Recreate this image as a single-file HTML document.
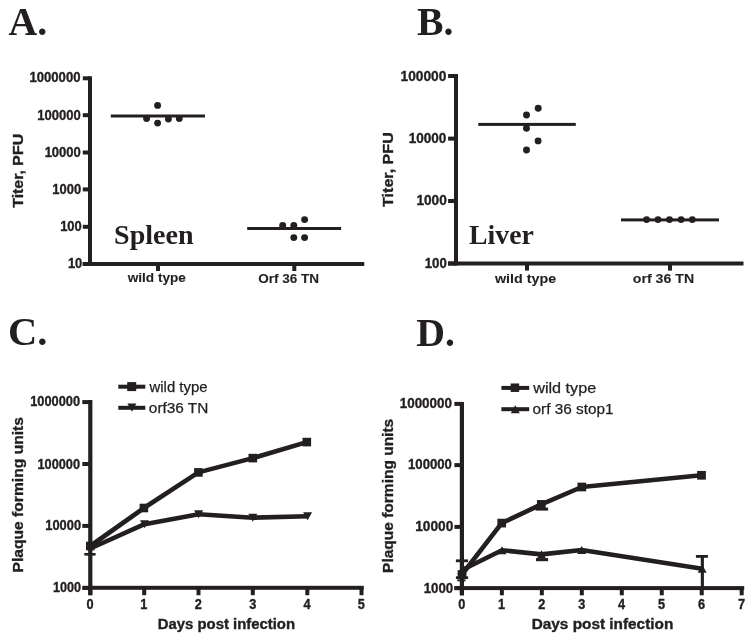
<!DOCTYPE html>
<html><head><meta charset="utf-8"><style>
html,body{margin:0;padding:0;background:#fff;}
body{width:754px;height:640px;overflow:hidden;}
svg{display:block;will-change:transform;}
</style></head><body>
<svg width="754" height="640" viewBox="0 0 754 640" fill="#231f20">
<rect x="0" y="0" width="754" height="640" fill="#fff"/>
<text x="8.50" y="35.00" font-family='"Liberation Serif", serif' font-weight="bold" font-size="40" textLength="38.67" lengthAdjust="spacingAndGlyphs">A.</text>
<text x="416.90" y="35.00" font-family='"Liberation Serif", serif' font-weight="bold" font-size="40" textLength="36.47" lengthAdjust="spacingAndGlyphs">B.</text>
<text x="8.07" y="345.40" font-family='"Liberation Serif", serif' font-weight="bold" font-size="40" textLength="39.44" lengthAdjust="spacingAndGlyphs">C.</text>
<text x="416.20" y="345.50" font-family='"Liberation Serif", serif' font-weight="bold" font-size="40" textLength="38.67" lengthAdjust="spacingAndGlyphs">D.</text>
<rect x="88.00" y="76.30" width="4.00" height="189.70"/>
<rect x="82.70" y="262.00" width="281.60" height="4.00"/>
<rect x="82.80" y="76.30" width="7.20" height="4.00"/>
<rect x="82.80" y="113.20" width="7.20" height="4.00"/>
<rect x="82.80" y="150.50" width="7.20" height="4.00"/>
<rect x="82.80" y="187.40" width="7.20" height="4.00"/>
<rect x="82.80" y="224.80" width="7.20" height="4.00"/>
<rect x="82.80" y="262.00" width="7.20" height="4.00"/>
<text x="29.45" y="82.30" font-family='"Liberation Sans", sans-serif' font-weight="bold" font-size="13.9" textLength="51.02" lengthAdjust="spacingAndGlyphs" stroke="#231f20" stroke-width="0.35">1000000</text>
<text x="37.35" y="119.60" font-family='"Liberation Sans", sans-serif' font-weight="bold" font-size="13.9" textLength="43.50" lengthAdjust="spacingAndGlyphs" stroke="#231f20" stroke-width="0.35">100000</text>
<text x="44.65" y="156.60" font-family='"Liberation Sans", sans-serif' font-weight="bold" font-size="13.9" textLength="36.18" lengthAdjust="spacingAndGlyphs" stroke="#231f20" stroke-width="0.35">10000</text>
<text x="52.36" y="193.80" font-family='"Liberation Sans", sans-serif' font-weight="bold" font-size="13.9" textLength="28.86" lengthAdjust="spacingAndGlyphs" stroke="#231f20" stroke-width="0.35">1000</text>
<text x="60.16" y="231.20" font-family='"Liberation Sans", sans-serif' font-weight="bold" font-size="13.9" textLength="21.61" lengthAdjust="spacingAndGlyphs" stroke="#231f20" stroke-width="0.35">100</text>
<text x="67.91" y="268.20" font-family='"Liberation Sans", sans-serif' font-weight="bold" font-size="13.9" textLength="14.39" lengthAdjust="spacingAndGlyphs" stroke="#231f20" stroke-width="0.35">10</text>
<rect x="156.00" y="264.00" width="4.00" height="7.00"/>
<rect x="292.30" y="264.00" width="4.00" height="7.00"/>
<text x="127.70" y="282.30" font-family='"Liberation Sans", sans-serif' font-weight="bold" font-size="13.6" textLength="58.22" lengthAdjust="spacingAndGlyphs" stroke="#231f20" stroke-width="0.1">wild type</text>
<text x="258.16" y="282.80" font-family='"Liberation Sans", sans-serif' font-weight="bold" font-size="13.6" textLength="60.83" lengthAdjust="spacingAndGlyphs" stroke="#231f20" stroke-width="0.1">Orf 36 TN</text>
<text transform="translate(22.85,207.76) rotate(-90)" font-family='"Liberation Sans", sans-serif' font-weight="bold" font-size="15" textLength="73.88" lengthAdjust="spacingAndGlyphs" stroke="#231f20" stroke-width="0.35">Titer, PFU</text>
<text x="114.06" y="243.80" font-family='"Liberation Serif", serif' font-weight="bold" font-size="28" textLength="79.54" lengthAdjust="spacingAndGlyphs">Spleen</text>
<rect x="110.80" y="114.50" width="94.20" height="3.00"/>
<circle cx="157.60" cy="105.40" r="3.45"/>
<circle cx="146.60" cy="118.60" r="3.45"/>
<circle cx="157.60" cy="123.10" r="3.45"/>
<circle cx="168.40" cy="119.10" r="3.45"/>
<circle cx="179.30" cy="118.60" r="3.45"/>
<rect x="247.20" y="227.00" width="93.90" height="3.00"/>
<circle cx="282.70" cy="225.50" r="3.45"/>
<circle cx="293.80" cy="225.50" r="3.45"/>
<circle cx="304.60" cy="219.60" r="3.45"/>
<circle cx="293.80" cy="237.60" r="3.45"/>
<circle cx="304.60" cy="237.60" r="3.45"/>
<rect x="454.00" y="74.00" width="4.00" height="191.50"/>
<rect x="448.00" y="261.50" width="295.50" height="4.00"/>
<rect x="448.10" y="74.00" width="7.90" height="4.00"/>
<rect x="448.10" y="136.60" width="7.90" height="4.00"/>
<rect x="448.10" y="199.00" width="7.90" height="4.00"/>
<rect x="448.10" y="261.50" width="7.90" height="4.00"/>
<text x="400.51" y="80.60" font-family='"Liberation Sans", sans-serif' font-weight="bold" font-size="13.9" textLength="45.87" lengthAdjust="spacingAndGlyphs" stroke="#231f20" stroke-width="0.35">100000</text>
<text x="408.72" y="143.10" font-family='"Liberation Sans", sans-serif' font-weight="bold" font-size="13.9" textLength="37.63" lengthAdjust="spacingAndGlyphs" stroke="#231f20" stroke-width="0.35">10000</text>
<text x="416.41" y="205.20" font-family='"Liberation Sans", sans-serif' font-weight="bold" font-size="13.9" textLength="30.38" lengthAdjust="spacingAndGlyphs" stroke="#231f20" stroke-width="0.35">1000</text>
<text x="424.74" y="267.60" font-family='"Liberation Sans", sans-serif' font-weight="bold" font-size="13.9" textLength="22.09" lengthAdjust="spacingAndGlyphs" stroke="#231f20" stroke-width="0.35">100</text>
<rect x="525.00" y="263.50" width="4.00" height="7.10"/>
<rect x="668.00" y="263.50" width="4.00" height="7.10"/>
<text x="494.90" y="282.50" font-family='"Liberation Sans", sans-serif' font-weight="bold" font-size="13.6" textLength="61.25" lengthAdjust="spacingAndGlyphs" stroke="#231f20" stroke-width="0.1">wild type</text>
<text x="632.73" y="282.50" font-family='"Liberation Sans", sans-serif' font-weight="bold" font-size="13.6" textLength="61.45" lengthAdjust="spacingAndGlyphs" stroke="#231f20" stroke-width="0.1">orf 36 TN</text>
<text transform="translate(393.00,206.96) rotate(-90)" font-family='"Liberation Sans", sans-serif' font-weight="bold" font-size="15" textLength="74.70" lengthAdjust="spacingAndGlyphs" stroke="#231f20" stroke-width="0.35">Titer, PFU</text>
<text x="469.08" y="243.80" font-family='"Liberation Serif", serif' font-weight="bold" font-size="28" textLength="64.74" lengthAdjust="spacingAndGlyphs">Liver</text>
<rect x="478.30" y="122.90" width="97.50" height="3.00"/>
<circle cx="538.20" cy="108.20" r="3.45"/>
<circle cx="526.50" cy="115.00" r="3.45"/>
<circle cx="526.50" cy="128.20" r="3.45"/>
<circle cx="538.10" cy="140.90" r="3.45"/>
<circle cx="526.50" cy="150.00" r="3.45"/>
<rect x="621.00" y="218.40" width="98.00" height="3.00"/>
<circle cx="646.60" cy="219.60" r="3.45"/>
<circle cx="658.00" cy="219.60" r="3.45"/>
<circle cx="669.50" cy="219.60" r="3.45"/>
<circle cx="681.10" cy="219.60" r="3.45"/>
<circle cx="692.30" cy="219.60" r="3.45"/>
<rect x="88.20" y="400.00" width="4.20" height="195.20"/>
<rect x="82.70" y="585.80" width="281.10" height="4.00"/>
<rect x="82.30" y="400.10" width="7.70" height="4.00"/>
<rect x="82.30" y="462.00" width="7.70" height="4.00"/>
<rect x="82.30" y="523.90" width="7.70" height="4.00"/>
<rect x="82.30" y="586.00" width="7.70" height="4.00"/>
<text x="30.17" y="406.20" font-family='"Liberation Sans", sans-serif' font-weight="bold" font-size="13.9" textLength="49.84" lengthAdjust="spacingAndGlyphs" stroke="#231f20" stroke-width="0.35">1000000</text>
<text x="37.47" y="468.60" font-family='"Liberation Sans", sans-serif' font-weight="bold" font-size="13.9" textLength="42.51" lengthAdjust="spacingAndGlyphs" stroke="#231f20" stroke-width="0.35">100000</text>
<text x="45.26" y="530.00" font-family='"Liberation Sans", sans-serif' font-weight="bold" font-size="13.9" textLength="35.81" lengthAdjust="spacingAndGlyphs" stroke="#231f20" stroke-width="0.35">10000</text>
<text x="52.98" y="591.90" font-family='"Liberation Sans", sans-serif' font-weight="bold" font-size="13.9" textLength="28.07" lengthAdjust="spacingAndGlyphs" stroke="#231f20" stroke-width="0.35">1000</text>
<rect x="88.30" y="587.80" width="4.00" height="7.40"/>
<text x="86.56" y="608.60" font-family='"Liberation Sans", sans-serif' font-weight="bold" font-size="14.0" textLength="7.09" lengthAdjust="spacingAndGlyphs" stroke="#231f20" stroke-width="0.35">0</text>
<rect x="142.20" y="587.80" width="4.00" height="7.40"/>
<text x="140.21" y="608.60" font-family='"Liberation Sans", sans-serif' font-weight="bold" font-size="14.0" textLength="7.09" lengthAdjust="spacingAndGlyphs" stroke="#231f20" stroke-width="0.35">1</text>
<rect x="196.50" y="587.80" width="4.00" height="7.40"/>
<text x="194.80" y="608.60" font-family='"Liberation Sans", sans-serif' font-weight="bold" font-size="14.0" textLength="7.09" lengthAdjust="spacingAndGlyphs" stroke="#231f20" stroke-width="0.35">2</text>
<rect x="250.80" y="587.80" width="4.00" height="7.40"/>
<text x="249.13" y="608.60" font-family='"Liberation Sans", sans-serif' font-weight="bold" font-size="14.0" textLength="7.09" lengthAdjust="spacingAndGlyphs" stroke="#231f20" stroke-width="0.35">3</text>
<rect x="305.30" y="587.80" width="4.00" height="7.40"/>
<text x="303.50" y="608.60" font-family='"Liberation Sans", sans-serif' font-weight="bold" font-size="14.0" textLength="7.09" lengthAdjust="spacingAndGlyphs" stroke="#231f20" stroke-width="0.35">4</text>
<rect x="359.50" y="587.80" width="4.00" height="7.40"/>
<text x="357.73" y="608.60" font-family='"Liberation Sans", sans-serif' font-weight="bold" font-size="14.0" textLength="7.09" lengthAdjust="spacingAndGlyphs" stroke="#231f20" stroke-width="0.35">5</text>
<text x="157.73" y="629.10" font-family='"Liberation Sans", sans-serif' font-weight="bold" font-size="14" textLength="137.34" lengthAdjust="spacingAndGlyphs" stroke="#231f20" stroke-width="0.35">Days post infection</text>
<text transform="translate(23.20,572.52) rotate(-90)" font-family='"Liberation Sans", sans-serif' font-weight="bold" font-size="14.8" textLength="155.54" lengthAdjust="spacingAndGlyphs" stroke="#231f20" stroke-width="0.35">Plaque forming units</text>
<rect x="118.30" y="384.70" width="27.00" height="4.00"/>
<rect x="127.20" y="382.10" width="9" height="9"/>
<text x="149.50" y="391.50" font-family='"Liberation Sans", sans-serif' font-weight="normal" font-size="14" textLength="57.98" lengthAdjust="spacingAndGlyphs" stroke="#231f20" stroke-width="0.25">wild type</text>
<rect x="118.30" y="405.80" width="27.00" height="4.00"/>
<polygon points="127.40,403.55 136.40,403.55 131.90,411.65"/>
<text x="148.89" y="412.70" font-family='"Liberation Sans", sans-serif' font-weight="normal" font-size="14" textLength="59.48" lengthAdjust="spacingAndGlyphs" stroke="#231f20" stroke-width="0.25">orf36 TN</text>
<polyline points="90.30,546.00 143.90,508.00 198.40,472.40 252.80,458.10 306.80,442.10" fill="none" stroke="#231f20" stroke-width="4.6" stroke-linejoin="round"/>
<polyline points="90.30,548.50 144.50,524.20 198.60,514.30 252.80,517.70 307.60,516.20" fill="none" stroke="#231f20" stroke-width="4.6" stroke-linejoin="round"/>
<rect x="86.00" y="541.70" width="8.6" height="8.6"/>
<rect x="139.60" y="503.70" width="8.6" height="8.6"/>
<rect x="194.10" y="468.10" width="8.6" height="8.6"/>
<rect x="248.50" y="453.80" width="8.6" height="8.6"/>
<rect x="302.50" y="437.80" width="8.6" height="8.6"/>
<polygon points="85.80,544.45 94.80,544.45 90.30,552.55"/>
<polygon points="140.00,520.15 149.00,520.15 144.50,528.25"/>
<polygon points="194.10,510.25 203.10,510.25 198.60,518.35"/>
<polygon points="248.30,513.65 257.30,513.65 252.80,521.75"/>
<polygon points="303.10,512.15 312.10,512.15 307.60,520.25"/>
<rect x="84.30" y="553.00" width="11.30" height="2.60"/>
<rect x="88.80" y="546.00" width="3.00" height="8.00"/>
<rect x="459.80" y="402.00" width="4.20" height="193.30"/>
<rect x="454.40" y="586.10" width="289.80" height="4.00"/>
<rect x="454.40" y="401.90" width="7.60" height="4.00"/>
<rect x="454.40" y="463.10" width="7.60" height="4.00"/>
<rect x="454.40" y="524.90" width="7.60" height="4.00"/>
<rect x="454.40" y="586.10" width="7.60" height="4.00"/>
<text x="399.73" y="408.20" font-family='"Liberation Sans", sans-serif' font-weight="bold" font-size="13.9" textLength="52.25" lengthAdjust="spacingAndGlyphs" stroke="#231f20" stroke-width="0.35">1000000</text>
<text x="408.04" y="469.30" font-family='"Liberation Sans", sans-serif' font-weight="bold" font-size="13.9" textLength="43.91" lengthAdjust="spacingAndGlyphs" stroke="#231f20" stroke-width="0.35">100000</text>
<text x="415.21" y="531.40" font-family='"Liberation Sans", sans-serif' font-weight="bold" font-size="13.9" textLength="38.05" lengthAdjust="spacingAndGlyphs" stroke="#231f20" stroke-width="0.35">10000</text>
<text x="423.64" y="592.60" font-family='"Liberation Sans", sans-serif' font-weight="bold" font-size="13.9" textLength="29.59" lengthAdjust="spacingAndGlyphs" stroke="#231f20" stroke-width="0.35">1000</text>
<rect x="459.90" y="588.10" width="4.00" height="7.20"/>
<text x="458.16" y="608.60" font-family='"Liberation Sans", sans-serif' font-weight="bold" font-size="14.0" textLength="7.09" lengthAdjust="spacingAndGlyphs" stroke="#231f20" stroke-width="0.35">0</text>
<rect x="499.87" y="588.10" width="4.00" height="7.20"/>
<text x="497.88" y="608.60" font-family='"Liberation Sans", sans-serif' font-weight="bold" font-size="14.0" textLength="7.09" lengthAdjust="spacingAndGlyphs" stroke="#231f20" stroke-width="0.35">1</text>
<rect x="539.84" y="588.10" width="4.00" height="7.20"/>
<text x="538.14" y="608.60" font-family='"Liberation Sans", sans-serif' font-weight="bold" font-size="14.0" textLength="7.09" lengthAdjust="spacingAndGlyphs" stroke="#231f20" stroke-width="0.35">2</text>
<rect x="579.81" y="588.10" width="4.00" height="7.20"/>
<text x="578.14" y="608.60" font-family='"Liberation Sans", sans-serif' font-weight="bold" font-size="14.0" textLength="7.09" lengthAdjust="spacingAndGlyphs" stroke="#231f20" stroke-width="0.35">3</text>
<rect x="619.78" y="588.10" width="4.00" height="7.20"/>
<text x="617.98" y="608.60" font-family='"Liberation Sans", sans-serif' font-weight="bold" font-size="14.0" textLength="7.09" lengthAdjust="spacingAndGlyphs" stroke="#231f20" stroke-width="0.35">4</text>
<rect x="659.75" y="588.10" width="4.00" height="7.20"/>
<text x="657.98" y="608.60" font-family='"Liberation Sans", sans-serif' font-weight="bold" font-size="14.0" textLength="7.09" lengthAdjust="spacingAndGlyphs" stroke="#231f20" stroke-width="0.35">5</text>
<rect x="699.72" y="588.10" width="4.00" height="7.20"/>
<text x="697.98" y="608.60" font-family='"Liberation Sans", sans-serif' font-weight="bold" font-size="14.0" textLength="7.09" lengthAdjust="spacingAndGlyphs" stroke="#231f20" stroke-width="0.35">6</text>
<rect x="739.69" y="588.10" width="4.00" height="7.20"/>
<text x="737.95" y="608.60" font-family='"Liberation Sans", sans-serif' font-weight="bold" font-size="14.0" textLength="7.09" lengthAdjust="spacingAndGlyphs" stroke="#231f20" stroke-width="0.35">7</text>
<text x="531.70" y="629.40" font-family='"Liberation Sans", sans-serif' font-weight="bold" font-size="14" textLength="141.60" lengthAdjust="spacingAndGlyphs" stroke="#231f20" stroke-width="0.35">Days post infection</text>
<text transform="translate(393.10,572.91) rotate(-90)" font-family='"Liberation Sans", sans-serif' font-weight="bold" font-size="15" textLength="154.13" lengthAdjust="spacingAndGlyphs" stroke="#231f20" stroke-width="0.35">Plaque forming units</text>
<rect x="501.40" y="385.90" width="27.80" height="4.00"/>
<rect x="510.65" y="383.45" width="8.5" height="8.5"/>
<text x="533.20" y="392.90" font-family='"Liberation Sans", sans-serif' font-weight="normal" font-size="15" textLength="63.04" lengthAdjust="spacingAndGlyphs" stroke="#231f20" stroke-width="0.25">wild type</text>
<rect x="501.40" y="407.20" width="27.80" height="4.00"/>
<polygon points="510.80,413.25 519.80,413.25 515.30,405.15"/>
<text x="532.59" y="414.00" font-family='"Liberation Sans", sans-serif' font-weight="normal" font-size="15" textLength="81.00" lengthAdjust="spacingAndGlyphs" stroke="#231f20" stroke-width="0.25">orf 36 stop1</text>
<polyline points="462.00,574.50 501.70,523.10 541.30,504.40 581.80,487.00 701.50,475.30" fill="none" stroke="#231f20" stroke-width="4.6" stroke-linejoin="round"/>
<polyline points="462.00,570.00 502.00,550.20 541.50,554.40 581.70,550.00 702.20,568.80" fill="none" stroke="#231f20" stroke-width="4.6" stroke-linejoin="round"/>
<rect x="457.65" y="570.15" width="8.7" height="8.7"/>
<rect x="497.35" y="518.75" width="8.7" height="8.7"/>
<rect x="536.95" y="500.05" width="8.7" height="8.7"/>
<rect x="577.45" y="482.65" width="8.7" height="8.7"/>
<rect x="697.15" y="470.95" width="8.7" height="8.7"/>
<polygon points="457.50,574.05 466.50,574.05 462.00,565.95"/>
<polygon points="497.50,554.25 506.50,554.25 502.00,546.15"/>
<polygon points="537.00,558.45 546.00,558.45 541.50,550.35"/>
<polygon points="577.20,554.05 586.20,554.05 581.70,545.95"/>
<polygon points="697.70,572.85 706.70,572.85 702.20,564.75"/>
<rect x="455.90" y="559.40" width="12.20" height="2.80"/>
<rect x="455.90" y="576.30" width="12.20" height="2.70"/>
<rect x="457.20" y="579.40" width="8.40" height="1.90"/>
<rect x="535.60" y="507.60" width="12.50" height="3.00"/>
<rect x="536.00" y="558.10" width="12.10" height="3.10"/>
<rect x="695.90" y="555.00" width="12.00" height="2.80"/>
<rect x="700.80" y="556.00" width="3.10" height="32.00"/>
</svg>
</body></html>
